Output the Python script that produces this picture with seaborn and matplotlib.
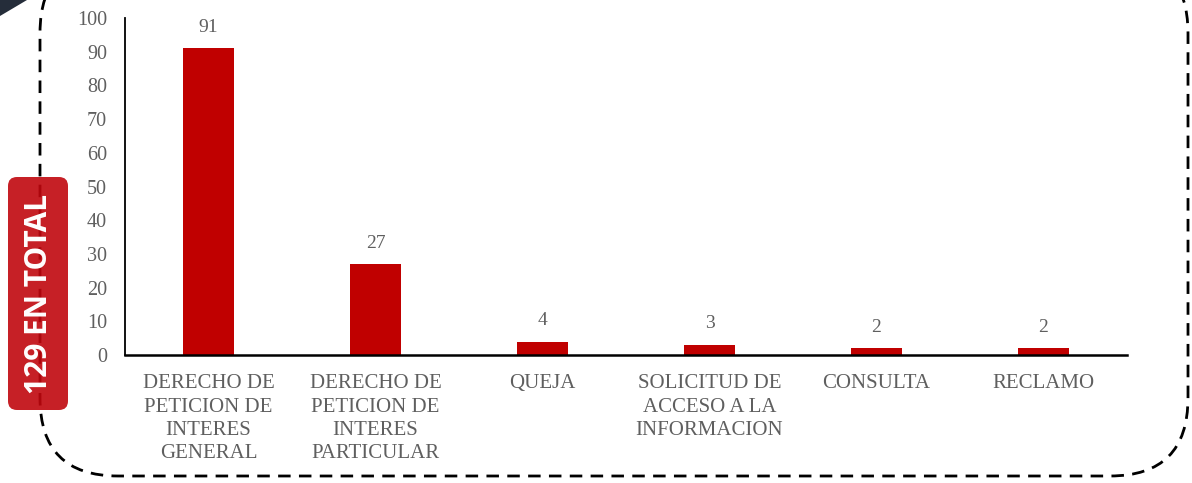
import matplotlib
import numpy as np
import pandas as pd
import seaborn as sns
from matplotlib.patches import FancyBboxPatch, Polygon
from matplotlib.transforms import Affine2D

matplotlib.use("Agg")
import matplotlib.pyplot as plt

W, H = 1192, 483

categorias = [
    "DERECHO DE\nPETICION DE\nINTERES\nGENERAL",
    "DERECHO DE\nPETICION DE\nINTERES\nPARTICULAR",
    "QUEJA",
    "SOLICITUD DE\nACCESO A LA\nINFORMACION",
    "CONSULTA",
    "RECLAMO",
]
cantidades = [91, 27, 4, 3, 2, 2]
yticks = list(range(0, 101, 10))
total_label = "129 EN TOTAL"

GRIS = "#5f5f5f"
ROJO = "#C00000"

sns.set_theme(style="white")
plt.rcParams["font.family"] = ["Liberation Serif", "DejaVu Serif"]

df = pd.DataFrame({"tipo": categorias, "cantidad": cantidades})

fig = plt.figure(figsize=(W / 100, H / 100), dpi=100)
ax = fig.add_axes([125 / W, 1 - 355 / H, (1127 - 125) / W, (355 - 18) / H])

sns.barplot(data=df, x="tipo", y="cantidad", color=ROJO, width=0.31,
            saturation=1, ax=ax)
for bar in ax.patches:
    bar.set_edgecolor("none")

ax.bar_label(ax.containers[0], labels=[str(v) for v in cantidades],
             padding=9, fontsize=14, color=GRIS)

ax.set_xlim(-0.5, len(categorias) - 0.5)
ax.set_ylim(0, 100)
ax.set_yticks(yticks)
ax.set_xlabel("")
ax.set_ylabel("")
ax.tick_params(axis="y", length=0, pad=13, labelsize=14.5, labelcolor=GRIS)
ax.tick_params(axis="x", length=0, pad=14, labelsize=15, labelcolor=GRIS)
for lbl in ax.get_xticklabels():
    lbl.set_linespacing(1.3)

sns.despine(ax=ax)
ax.spines["left"].set_color("black")
ax.spines["left"].set_linewidth(1.3)
ax.spines["bottom"].set_color("black")
ax.spines["bottom"].set_linewidth(1.8)
ax.grid(False)

# decoraciones en coordenadas de pixel (origen arriba a la izquierda)
px = Affine2D().scale(1 / W, -1 / H).translate(0, 1) + fig.transFigure

borde = FancyBboxPatch((40, -45), 1148, 521,
                       boxstyle="round,pad=0,rounding_size=78",
                       fill=False, edgecolor="black", linewidth=2,
                       linestyle=(0, (4.5, 3)), transform=px, clip_on=False)
fig.add_artist(borde)

esquina = Polygon([[0, 0], [27, 0], [0, 16]], closed=True,
                  facecolor="#252d3a", edgecolor="none", transform=px)
fig.add_artist(esquina)

etiqueta = FancyBboxPatch((8, 177), 60, 233,
                          boxstyle="round,pad=0,rounding_size=9",
                          facecolor="#C0070E", edgecolor="none", alpha=0.9,
                          transform=px)
fig.add_artist(etiqueta)
fig.text(39 / W, 1 - 294 / H, total_label, rotation=90, ha="center",
         va="center", color="white", fontsize=21.5, fontweight="bold",
         family=["Open Sans", "DejaVu Sans"])

fig.savefig("out.png", dpi=100)
